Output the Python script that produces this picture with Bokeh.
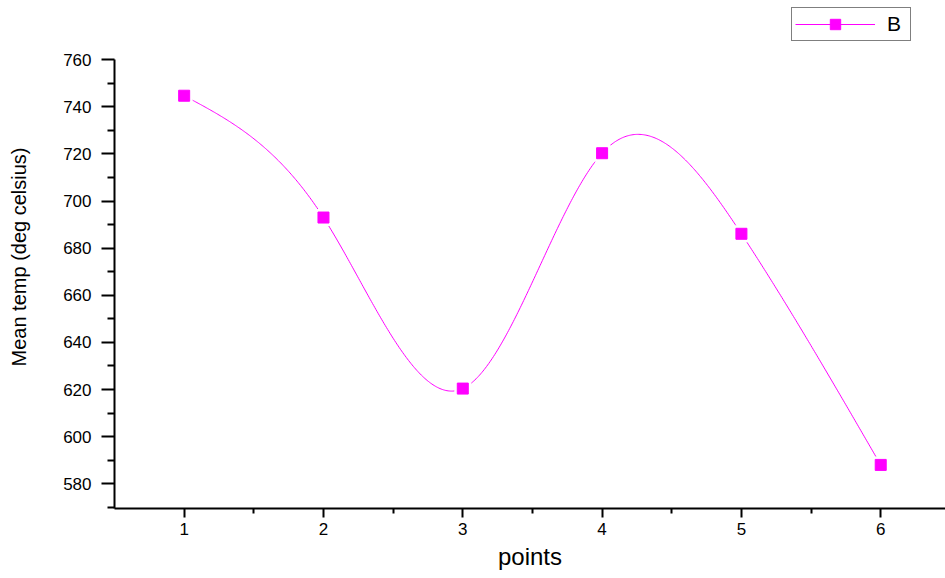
import numpy as np
from bokeh.plotting import figure
from bokeh.models import Range1d, FixedTicker, Legend, LegendItem
from bokeh.embed import file_html
from bokeh.resources import INLINE

# ---- data ----
points = [1, 2, 3, 4, 5, 6]
mean_temp = [744.7, 693.0, 620.4, 720.3, 686.1, 588.0]
series_name = "B"
x_ticks = [1, 2, 3, 4, 5, 6]
x_minor = [1.5, 2.5, 3.5, 4.5, 5.5, 6.5]
y_ticks = [580, 600, 620, 640, 660, 680, 700, 720, 740, 760]
y_minor = [570, 590, 610, 630, 650, 670, 690, 710, 730, 750]
x_label = "points"
y_label = "Mean temp (deg celsius)"


def natural_spline(xs, ys, n=600):
    xs = np.asarray(xs, float)
    ys = np.asarray(ys, float)
    k = len(xs)
    h = np.diff(xs)
    A = np.zeros((k, k))
    b = np.zeros(k)
    A[0, 0] = 1
    A[-1, -1] = 1
    for i in range(1, k - 1):
        A[i, i - 1] = h[i - 1]
        A[i, i] = 2 * (h[i - 1] + h[i])
        A[i, i + 1] = h[i]
        b[i] = 6 * ((ys[i + 1] - ys[i]) / h[i] - (ys[i] - ys[i - 1]) / h[i - 1])
    M = np.linalg.solve(A, b)
    xx = np.linspace(xs[0], xs[-1], n)
    idx = np.clip(np.searchsorted(xs, xx) - 1, 0, k - 2)
    x0 = xs[idx]
    x1 = xs[idx + 1]
    hh = x1 - x0
    t0 = x1 - xx
    t1 = xx - x0
    yy = (M[idx] * t0 ** 3 / (6 * hh) + M[idx + 1] * t1 ** 3 / (6 * hh)
          + (ys[idx] / hh - M[idx] * hh / 6) * t0
          + (ys[idx + 1] / hh - M[idx + 1] * hh / 6) * t1)
    return xx, yy


FONT = "Liberation Sans"
MAGENTA = "#FF00FF"

p = figure(width=945, height=578,
           x_range=Range1d(0.5, 6.465), y_range=Range1d(569.5, 783),
           output_backend="svg", toolbar_location=None,
           min_border_left=114, min_border_right=0,
           min_border_top=5, min_border_bottom=70)
p.outline_line_color = None
p.xgrid.visible = False
p.ygrid.visible = False
p.background_fill_color = "white"
p.border_fill_color = "white"

sx, sy = natural_spline(points, mean_temp)
line_r = p.line(sx, sy, line_color=MAGENTA, line_width=1)
p.scatter(points, mean_temp, marker="square", size=17,
          fill_color="white", line_color=None)
pts_r = p.scatter(points, mean_temp, marker="square", size=11,
                  fill_color=MAGENTA, line_color=MAGENTA, line_width=1)

# axes
xa = p.xaxis[0]
xa.ticker = FixedTicker(ticks=x_ticks, minor_ticks=x_minor)
xa.axis_label = x_label
xa.axis_line_width = 2
xa.major_tick_line_width = 2
xa.minor_tick_line_width = 2
xa.major_tick_out = 9
xa.major_tick_in = 0
xa.minor_tick_out = 5
xa.minor_tick_in = 0
xa.major_label_standoff = 5
xa.major_label_text_font = FONT
xa.major_label_text_font_size = "17px"
xa.major_label_text_color = "black"
xa.axis_label_text_font = FONT
xa.axis_label_text_font_size = "24px"
xa.axis_label_text_font_style = "normal"
xa.axis_label_text_color = "black"
xa.axis_label_standoff = 5

ya = p.yaxis[0]
ya.ticker = FixedTicker(ticks=y_ticks, minor_ticks=y_minor)
ya.bounds = (569.5, 760)
ya.axis_label = y_label
ya.axis_line_width = 2
ya.major_tick_line_width = 2
ya.minor_tick_line_width = 2
ya.major_tick_out = 13
ya.major_tick_in = 0
ya.minor_tick_out = 7
ya.minor_tick_in = 0
ya.major_label_standoff = 10
ya.major_label_text_font = FONT
ya.major_label_text_font_size = "17px"
ya.major_label_text_color = "black"
ya.axis_label_text_font = FONT
ya.axis_label_text_font_size = "20px"
ya.axis_label_text_font_style = "normal"
ya.axis_label_text_color = "black"
ya.axis_label_standoff = 30

legend = Legend(items=[LegendItem(label=series_name, renderers=[line_r, pts_r])],
                location=(677, 467), orientation="vertical")
legend.margin = 0
legend.padding = 3
legend.glyph_width = 80
legend.glyph_height = 26
legend.label_standoff = 12
legend.label_text_font = FONT
legend.label_text_font_size = "21px"
legend.label_text_color = "black"
legend.border_line_color = "black"
legend.border_line_width = 1
legend.background_fill_color = "white"
legend.background_fill_alpha = 1
legend.spacing = 0
p.add_layout(legend, "center")

open("out.html", "w").write(file_html(p, INLINE))
